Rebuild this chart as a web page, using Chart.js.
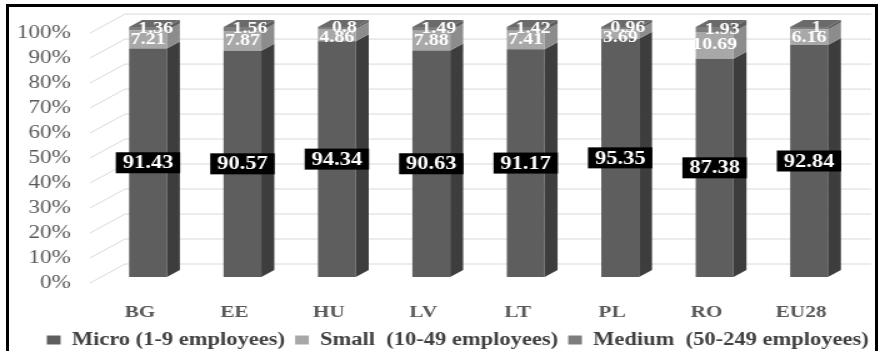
<!DOCTYPE html>
<html>
<head>
<meta charset="utf-8">
<script src="https://cdn.jsdelivr.net/npm/chart.js@4"></script>
<style>
  body { margin: 0; background: #fff; overflow: hidden; }
  #wrap { position: absolute; left: 0; top: 0; width: 703px; height: 351px; transform: scaleX(1.25); transform-origin: 0 0; }
  #frame { position: absolute; left: 6px; top: 4px; width: 872px; height: 400px; border: 3px solid #000; box-sizing: border-box; pointer-events: none; }
</style>
</head>
<body>
<div id="wrap"><canvas id="myChart"></canvas></div>
<div id="frame"></div>
<script>
const countries = ['BG', 'EE', 'HU', 'LV', 'LT', 'PL', 'RO', 'EU28'];
const micro = [91.43, 90.57, 94.34, 90.63, 91.17, 95.35, 87.38, 92.84];
const small = [7.21, 7.87, 4.86, 7.88, 7.41, 3.69, 10.69, 6.16];
const medium = [1.36, 1.56, 0.8, 1.49, 1.42, 0.96, 1.93, 1];
const yTicks = [0, 10, 20, 30, 40, 50, 60, 70, 80, 90, 100];

const serif = "'Liberation Serif', 'Times New Roman', serif";
const sideColors = ['#3d3d3d', '#8c8c8c', '#5c5c5c'];
const topColor = '#6a6a6a';
const dx = 10.4, dy = -7;

// back wall + floor lines of the excel 3d look
const grid3d = {
  id: 'grid3d',
  beforeDatasetsDraw(chart) {
    const c = chart.ctx, ys = chart.scales.y;
    c.save();
    c.strokeStyle = '#d9d9d9';
    c.lineWidth = 1;
    yTicks.forEach(v => {
      const yf = ys.getPixelForValue(v);
      c.beginPath();
      c.moveTo(72, yf + 6);
      c.lineTo(100, yf - 13);
      c.lineTo(697, yf - 13);
      c.stroke();
    });
    c.restore();
  }
};

const bars3d = {
  id: 'bars3d',
  afterDatasetsDraw(chart) {
    const c = chart.ctx;
    c.save();
    const n = chart.data.datasets.length;
    for (let d = 0; d < n; d++) {
      const meta = chart.getDatasetMeta(d);
      meta.data.forEach(bar => {
        const right = bar.x + bar.width / 2;
        const top = Math.min(bar.y, bar.base), bottom = Math.max(bar.y, bar.base);
        c.fillStyle = sideColors[d];
        c.beginPath();
        c.moveTo(right, top);
        c.lineTo(right + dx, top + dy);
        c.lineTo(right + dx, bottom + dy);
        c.lineTo(right, bottom);
        c.closePath();
        c.fill();
        if (d === n - 1) {
          const left = bar.x - bar.width / 2;
          c.fillStyle = topColor;
          c.beginPath();
          c.moveTo(left, top);
          c.lineTo(left + dx, top + dy);
          c.lineTo(right + dx, top + dy);
          c.lineTo(right, top);
          c.closePath();
          c.fill();
        }
      });
    }

    // value labels
    c.textAlign = 'center';
    c.textBaseline = 'middle';
    const mMeta = chart.getDatasetMeta(0), sMeta = chart.getDatasetMeta(1), dMeta = chart.getDatasetMeta(2);
    mMeta.data.forEach((bar, i) => {
      const mid = (bar.y + bar.base) / 2;
      c.font = 'bold 18px ' + serif;
      const txt = String(micro[i]);
      const w = c.measureText(txt).width + 11;
      c.fillStyle = '#000';
      c.fillRect(bar.x - w / 2, mid - 10.5, w, 21);
      c.fillStyle = '#fff';
      c.fillText(txt, bar.x, mid + 1);

      c.font = 'bold 16px ' + serif;
      const dBar = dMeta.data[i], sBar = sMeta.data[i];
      const dMid = (dBar.y + dBar.base) / 2;
      const sMid = Math.max((sBar.y + sBar.base) / 2, dMid + 10);
      c.fillText(String(small[i]), sBar.x, sMid);
      c.fillText(String(medium[i]), dBar.x + 6, dMid);
    });
    c.restore();
  }
};

new Chart(document.getElementById('myChart'), {
  type: 'bar',
  data: {
    labels: countries,
    datasets: [
      { label: 'Micro (1-9 employees)', data: micro, backgroundColor: '#5e5e5e' },
      { label: 'Small  (10-49 employees)', data: small, backgroundColor: '#a8a8a8' },
      { label: 'Medium  (50-249 employees)', data: medium, backgroundColor: '#7d7d7d' }
    ]
  },
  options: {
    responsive: true,
    maintainAspectRatio: false,
    animation: false,
    layout: { padding: { top: 25, left: 0, right: 0, bottom: -8 } },
    datasets: { bar: { categoryPercentage: 0.4, barPercentage: 1 } },
    scales: {
      x: {
        stacked: true,
        grid: { display: false },
        border: { display: false },
        ticks: { font: { family: serif, size: 17, weight: 'bold' }, color: '#595959', padding: 17, labelOffset: -6.4 },
        afterFit(s) { s.height = 46; }
      },
      y: {
        stacked: true,
        min: 0,
        max: 100,
        grid: { display: false },
        border: { display: false },
        ticks: {
          stepSize: 10,
          autoSkip: false,
          callback: v => v + '%',
          font: { family: serif, size: 18.5 },
          color: '#595959',
          padding: 16,
          labelOffset: 6
        },
        afterFit(s) { s.width = 80.6; }
      },
      yR: {
        position: 'right',
        display: true,
        grid: { display: false },
        border: { display: false },
        ticks: { display: false },
        afterFit(s) { s.width = 18; }
      }
    },
    plugins: {
      legend: {
        position: 'bottom',
        align: 'end',
        labels: {
          font: { family: serif, size: 18, weight: 'bold' },
          color: '#404040',
          boxWidth: 11,
          boxHeight: 9,
          padding: 8
        }
      },
      tooltip: { enabled: false }
    }
  },
  plugins: [grid3d, bars3d]
});
</script>
</body>
</html>
